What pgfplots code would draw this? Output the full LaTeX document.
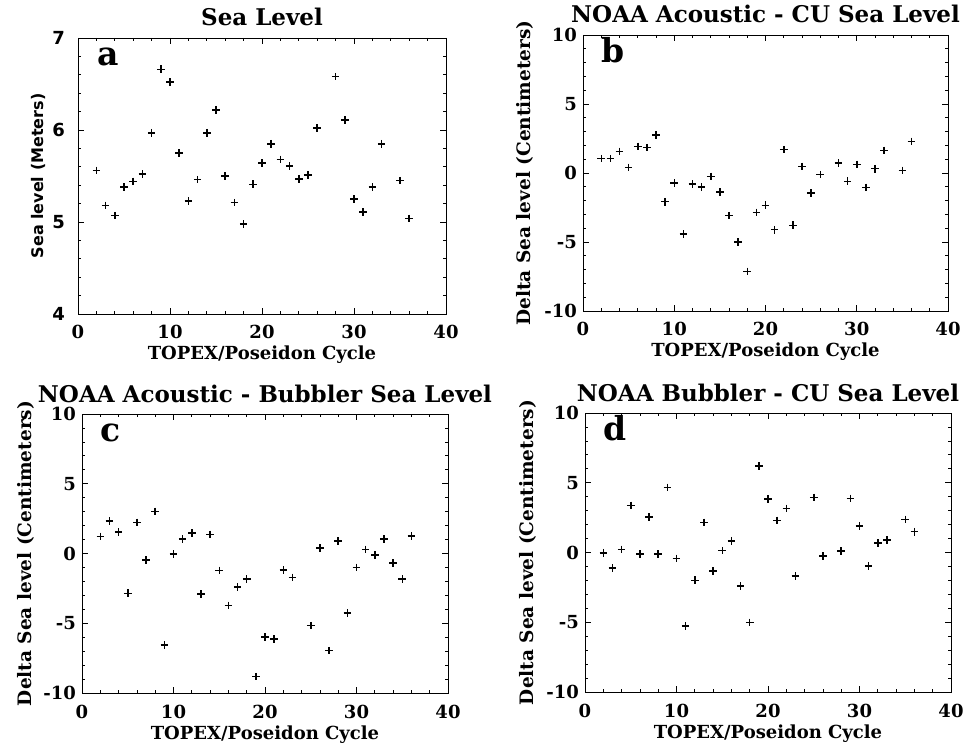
\documentclass[border=0pt]{standalone}
\usepackage{fontspec}
\setmainfont{DejaVu Serif}
\newfontfamily\dvs{DejaVu Sans}
\usepackage{pgfplots}
\pgfplotsset{compat=1.18}

\pgfplotsset{
  panel/.style={
    scale only axis, width=366pt, height=278pt,
    anchor=south west,
    xmin=0, xmax=40, xtick={0,10,20,30,40},
    minor x tick num=4, minor y tick num=4,
    tick align=inside, major tick length=6pt, minor tick length=3pt,
    every tick/.style={black, line width=0.8pt},
    axis line style={line width=0.9pt},
    /pgf/number format/assume math mode=true,
    tick label style={font=\fontsize{18}{21}\selectfont\bfseries},
    xticklabel style={anchor=base, yshift=-25pt},
    yticklabel style={anchor=east, inner sep=2pt, xshift=-4pt},
    xlabel={TOPEX/Poseidon Cycle},
    xlabel style={at={(axis description cs:0.5,0)}, anchor=base, yshift=-46pt,
      font=\fontsize{18}{21}\selectfont\bfseries},
    ylabel style={anchor=base, font=\fontsize{18.5}{21}\selectfont\bfseries},
    title style={at={(axis description cs:0.5,1)}, anchor=base, yshift=6pt,
      font=\fontsize{23}{26}\selectfont\bfseries},
  },
  pts/.style={only marks, mark=+, mark size=3.8pt, mark options={line width=1.5pt, black}},
}
\tikzset{letter/.style={anchor=base west, inner sep=0pt, font=\fontsize{33}{36}\selectfont\bfseries}}

\begin{document}
\begin{tikzpicture}
\useasboundingbox (0,0) rectangle (966pt,745pt);

% a
\begin{axis}[panel, at={(78pt,431pt)}, width=368pt, height=276pt,
  ymin=4, ymax=7, ytick={4,5,6,7},
  yticklabel style={font=\fontsize{18}{21}\selectfont\dvs\bfseries, xshift=-7pt},
  ylabel={Sea level (Meters)},
  ylabel style={at={(axis description cs:-0.095,0.5)}, font=\fontsize{16}{19}\selectfont\dvs\bfseries},
  title={Sea Level}]
\addplot[pts] coordinates {
 (2,5.56) (3,5.18) (4,5.07) (5,5.38) (6,5.44) (7,5.52) (8,5.97) (9,6.66)
 (10,6.52) (11,5.75) (12,5.23) (13,5.46) (14,5.97) (15,6.22) (16,5.50)
 (17,5.21) (18,4.98) (19,5.41) (20,5.64) (21,5.85) (22,5.68) (23,5.61)
 (24,5.47) (25,5.51) (26,6.02) (28,6.58) (29,6.11) (30,5.25) (31,5.11)
 (32,5.38) (33,5.85) (35,5.45) (36,5.04)};
\node[letter] at (axis description cs:0.052,0.901) {a};
\end{axis}

% b
\begin{axis}[panel, at={(583pt,434pt)}, width=365pt, height=276pt,
  ymin=-10, ymax=10, ytick={-10,-5,0,5,10},
  ylabel={Delta Sea level (Centimeters)},
  ylabel style={at={(axis description cs:-0.145,0.5)}},
  title={NOAA Acoustic - CU Sea Level}]
\addplot[pts] coordinates {
 (2,1.04) (3,1.04) (4,1.57) (5,0.41) (6,1.93) (7,1.84) (8,2.75) (9,-2.08)
 (10,-0.72) (11,-4.42) (12,-0.80) (13,-1.01) (14,-0.24) (15,-1.38) (16,-3.09)
 (17,-5.00) (18,-7.13) (19,-2.85) (20,-2.34) (21,-4.11) (22,1.69) (23,-3.79)
 (24,0.48) (25,-1.45) (26,-0.12) (28,0.72) (29,-0.60) (30,0.63) (31,-1.04)
 (32,0.31) (33,1.64) (35,0.19) (36,2.29)};
\node[letter] at (axis description cs:0.05,0.899) {b};
\end{axis}

% c
\begin{axis}[panel, at={(82pt,52pt)}, width=366pt, height=279pt,
  ymin=-10, ymax=10, ytick={-10,-5,0,5,10},
  ylabel={Delta Sea level (Centimeters)},
  ylabel style={at={(axis description cs:-0.139,0.5)}},
  title={NOAA Acoustic - Bubbler Sea Level}]
\addplot[pts] coordinates {
 (2,1.22) (3,2.32) (4,1.53) (5,-2.85) (6,2.22) (7,-0.48) (8,3.01) (9,-6.56)
 (10,-0.05) (11,1.03) (12,1.46) (13,-2.89) (14,1.36) (15,-1.22) (16,-3.73)
 (17,-2.39) (18,-1.84) (19,-8.83) (20,-5.98) (21,-6.12) (22,-1.20) (23,-1.72)
 (25,-5.17) (26,0.38) (27,-6.96) (28,0.89) (29,-4.26) (30,-1.00) (31,0.29)
 (32,-0.10) (33,1.03) (34,-0.69) (35,-1.82) (36,1.24)};
\node[letter] at (axis description cs:0.05,0.9) {c};
\end{axis}

% d
\begin{axis}[panel, at={(585pt,53pt)}, width=366pt, height=279pt,
  ymin=-10, ymax=10, ytick={-10,-5,0,5,10},
  ylabel={Delta Sea level (Centimeters)},
  ylabel style={at={(axis description cs:-0.142,0.5)}},
  title={NOAA Bubbler - CU Sea Level}]
\addplot[pts] coordinates {
 (2,-0.02) (3,-1.10) (4,0.22) (5,3.38) (6,-0.12) (7,2.54) (8,-0.10) (9,4.67)
 (10,-0.43) (11,-5.27) (12,-1.99) (13,2.16) (14,-1.34) (15,0.14) (16,0.84)
 (17,-2.40) (18,-5.01) (19,6.20) (20,3.83) (21,2.30) (22,3.16) (23,-1.70)
 (25,3.95) (26,-0.24) (28,0.10) (29,3.88) (30,1.89) (31,-0.96) (32,0.69)
 (33,0.91) (35,2.37) (36,1.49)};
\node[letter] at (axis description cs:0.05,0.903) {d};
\end{axis}
\end{tikzpicture}
\end{document}
